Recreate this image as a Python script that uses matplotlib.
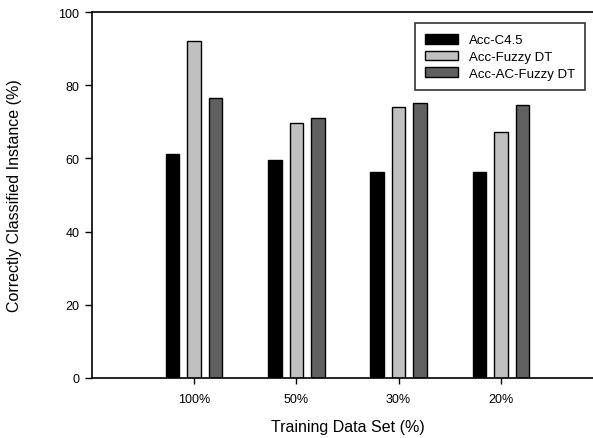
import matplotlib
matplotlib.use("Agg")
import matplotlib.pyplot as plt
import numpy as np

plt.rcParams['font.family'] = ['Liberation Sans', 'DejaVu Sans']

categories = ["100%", "50%", "30%", "20%"]
series_names = ["Acc-C4.5", "Acc-Fuzzy DT", "Acc-AC-Fuzzy DT"]
acc_c45 = [61.2, 59.6, 56.4, 56.4]
acc_fuzzy = [92.0, 69.8, 74.1, 67.1]
acc_ac_fuzzy = [76.4, 71.0, 75.1, 74.7]
y_ticks = [0, 20, 40, 60, 80, 100]

colors = ["#000000", "#c0c0c0", "#606060"]

fig = plt.figure(figsize=(5.93, 4.39), dpi=100)
ax = fig.add_axes([92 / 593, 60 / 439, 511 / 593, 366 / 439])

x = np.arange(1, len(categories) + 1)
width = 0.132
offset = 0.21
for i, (vals, name, c) in enumerate(zip([acc_c45, acc_fuzzy, acc_ac_fuzzy], series_names, colors)):
    ax.bar(x + (i - 1) * offset, vals, width, color=c, edgecolor="black",
           linewidth=1.0, label=name)

ax.set_xlim(0, 5)
ax.set_ylim(0, 100)
ax.set_xticks(x)
ax.set_xticklabels(categories)
ax.set_yticks(y_ticks)

for side in ["left", "bottom", "top"]:
    ax.spines[side].set_linewidth(1.2)
ax.spines["right"].set_visible(False)
ax.tick_params(axis="both", direction="out", width=1.0, labelsize=9, colors="black")
ax.tick_params(axis="y", length=5, pad=4)
ax.tick_params(axis="x", length=4, pad=7)

ax.set_xlabel("Training Data Set (%)", fontsize=11.5, labelpad=10)
ax.set_ylabel("Correctly Classified Instance (%)", fontsize=11.5)
ax.yaxis.set_label_coords(-(92 - 22) / 511, 0.5)

leg = ax.legend(loc="upper right", bbox_to_anchor=(592 / 593, 1 - 17.7 / 439),
                bbox_transform=fig.transFigure, fontsize=9.5, frameon=True,
                fancybox=False, edgecolor="black", borderpad=0.8,
                handlelength=2.5, handleheight=0.75, labelspacing=0.32,
                handletextpad=0.8)
leg.get_frame().set_linewidth(1.2)

fig.savefig("out.png", dpi=100)
